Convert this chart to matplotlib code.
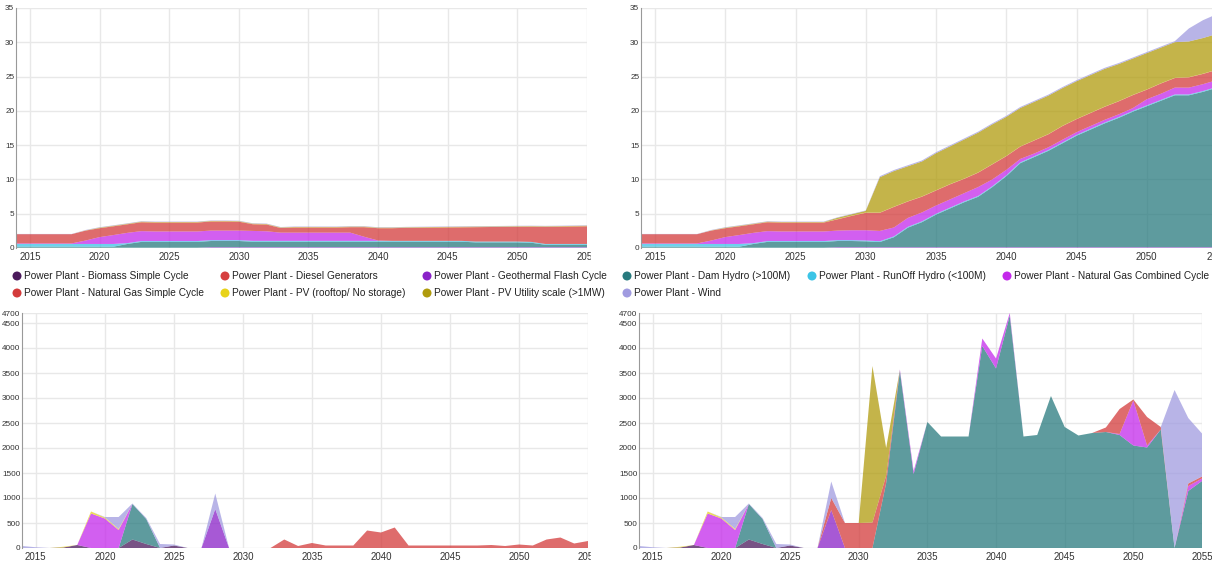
import matplotlib
matplotlib.use("Agg")
import matplotlib.pyplot as plt
from matplotlib.patches import Rectangle
import numpy as np

plt.rcParams['font.family'] = ['Liberation Sans', 'DejaVu Sans']

years = list(range(2014, 2056))

names = ["Power Plant - Biomass Simple Cycle", "Power Plant - Diesel Generators",
         "Power Plant - Geothermal Flash Cycle", "Power Plant - Dam Hydro (>100M)",
         "Power Plant - RunOff Hydro (<100M)", "Power Plant - Natural Gas Combined Cycle",
         "Power Plant - Natural Gas Simple Cycle", "Power Plant - PV (rooftop/ No storage)",
         "Power Plant - PV Utility scale (>1MW)", "Power Plant - Wind"]
colors = ["#4b1a5c", "#d63f3f", "#8a22c8", "#287a7e", "#3cc4e6",
          "#c429eb", "#d33b3b", "#e8d31a", "#b09b0d", "#a09be0"]

# ---- capacity, scenario 1 (top left)
tl_biomass = [0.04] * 42
tl_diesel = [0] * 42
tl_geo = [0] * 14 + [0.08] * 28
tl_dam = [0.15] * 8 + [0.55] + [0.85] * 5 + [0.9] * 3 + [0.8] * 16 + [0.7] * 4 + [0.65] + [0.35] * 4
tl_runoff = [0.4] * 8 + [0.12] * 34
tl_ngcc = [0.08] * 5 + [0.5, 1.0, 1.3, 1.5, 1.45] + [1.4] * 4 + [1.4, 1.4, 1.4, 1.45, 1.4] + [1.2] * 6 + [0.6, 0.05] + [0] * 15
tl_ngsc = [1.35] * 5 + [1.45, 1.3, 1.28, 1.25] + [1.3] * 5 + [1.33, 1.33, 1.3, 0.98, 0.98, 0.68] + \
          [0.75] * 4 + [0.8, 1.4, 1.8, 1.85, 1.9, 1.92, 1.94, 1.96, 1.98, 2.1, 2.12, 2.14, 2.16, 2.22,
                        2.5, 2.52, 2.55, 2.58]
tl_pvroof = [0] * 5 + [0.03] * 37
tl_pvutil = [0] * 6 + [0.05] * 36
tl_wind = [0.03] * 5 + [0.06] * 37

# ---- capacity, scenario 2 (top right)
tr_biomass = tl_biomass
tr_diesel = tl_diesel
tr_geo = tl_geo
tr_dam = tl_dam[:14] + [0.9, 0.9, 0.85, 0.75, 1.45, 2.85, 3.65, 4.75, 5.65, 6.55, 7.35, 8.75, 10.35,
                        12.25, 13.15, 14.05, 15.15, 16.25, 17.15, 18.05, 18.85, 19.75, 20.55, 21.35,
                        22.15, 22.15, 22.65, 23.25]
tr_runoff = tl_runoff
tr_ngcc = tl_ngcc[:14] + [1.4, 1.45, 1.5, 1.5, 1.3, 1.3, 1.3, 1.2, 1.2, 1.2, 1.3, 1.0, 0.8, 0.5,
                          0.4, 0.4, 0.4, 0.4, 0.4, 0.4, 0.4, 0.4, 0.9, 0.9, 1.0, 1.0, 1.0, 1.0]
tr_ngsc = tl_ngsc[:14] + [1.65, 2.1, 2.55, 2.65, 3.0, 2.4, 2.3, 2.2, 2.2, 2.1, 2.1, 2.2, 2.0, 1.8,
                          1.9, 1.9, 2.0, 1.9, 1.9, 1.9, 1.9, 1.9, 1.4, 1.5, 1.4, 1.5, 1.5, 1.5]
tr_pvroof = tl_pvroof
tr_pvutil = tl_pvutil[:14] + [0.2, 0.2, 0.25, 5.15, 5.2, 5.1, 5.1, 5.4, 5.5, 5.7, 5.8, 5.8, 5.7, 5.6,
                              5.6, 5.6, 5.5, 5.5, 5.5, 5.5, 5.4, 5.3, 5.3, 5.2, 5.2, 5.2, 5.2, 5.2]
tr_wind = [0.03] * 5 + [0.06] * 12 + [0.15] * 22 + [1.9, 2.6, 2.9]

# ---- new capacity, scenario 1 (bottom left)
bl_biomass = [0, 0, 0, 10, 60, 0, 0, 0, 170, 80, 0, 50] + [0] * 30
bl_diesel = [0] * 42
bl_geo = [0] * 14 + [780] + [0] * 27
bl_dam = [0] * 8 + [710, 500] + [0] * 32
bl_runoff = [0] * 42
bl_ngcc = [0] * 5 + [690, 590, 360] + [0] * 34
bl_ngsc = [0] * 19 + [170, 40, 100, 50, 50, 50, 350, 310, 410, 50, 50, 50, 50, 50, 50, 60, 40, 70,
                      50, 170, 210, 90, 140]
bl_pvroof = [0, 0, 0, 15, 0, 40, 20, 20] + [0] * 34
bl_pvutil = [0] * 42
bl_wind = [40, 15, 0, 0, 0, 0, 10, 240, 10, 20, 80, 20, 0, 0, 310] + [0] * 27

# ---- new capacity, scenario 2 (bottom right)
br_biomass = bl_biomass
br_diesel = bl_diesel
br_geo = [0] * 14 + [760] + [0] * 27
br_dam = bl_dam[:17] + [0, 1300, 3540, 1480, 2520, 2230, 2230, 2230, 4040, 3590, 4650, 2230, 2260,
                        3040, 2420, 2250, 2300, 2320, 2260, 2050, 2010, 2370, 0, 1140, 1340]
br_runoff = bl_runoff
br_ngcc = bl_ngcc[:19] + [30, 60, 0, 0, 0, 0, 150, 200, 50, 0, 0, 0, 0, 0, 0, 0, 20, 900, 40, 0, 0,
                          100, 50]
br_ngsc = [0] * 14 + [240, 500, 500, 510, 150] + [0] * 15 + [90, 500, 20, 570, 50, 0, 50, 40]
br_pvroof = bl_pvroof
br_pvutil = [0] * 17 + [3130, 550] + [0] * 23
br_wind = bl_wind[:14] + [330] + [0] * 24 + [3160, 1310, 860]

W, H = 1212, 566
fig = plt.figure(figsize=(W / 100, H / 100), dpi=100)


def panel(box, layers, yticks, ylim):
    x0, y0, x1, y1 = box
    ax = fig.add_axes([x0 / W, 1 - y1 / H, (x1 - x0) / W, (y1 - y0) / H])
    ax.stackplot(years, *layers, colors=colors, alpha=0.75, linewidth=0)
    ax.set_xlim(2014, 2055)
    ax.set_ylim(*ylim)
    ax.set_xticks(range(2015, 2056, 5))
    ax.set_yticks(yticks)
    ax.grid(True, color="#e8e8e8", linewidth=1)
    ax.set_axisbelow(True)
    for s in ["top", "right", "bottom"]:
        ax.spines[s].set_visible(False)
    ax.spines["left"].set_color("#999999")
    ax.tick_params(length=0, colors="#333333")
    ax.tick_params(axis="x", labelsize=7, pad=3)
    ax.tick_params(axis="y", labelsize=5.9, pad=1.2)
    return ax


panel((16, 8, 587, 248),
      [tl_biomass, tl_diesel, tl_geo, tl_dam, tl_runoff, tl_ngcc, tl_ngsc, tl_pvroof, tl_pvutil, tl_wind],
      range(0, 36, 5), (0, 35))
panel((641, 8, 1217, 248),
      [tr_biomass, tr_diesel, tr_geo, tr_dam, tr_runoff, tr_ngcc, tr_ngsc, tr_pvroof, tr_pvutil, tr_wind],
      range(0, 36, 5), (0, 35))
bticks = list(range(0, 4501, 500)) + [4700]
panel((22, 313, 588, 548),
      [bl_biomass, bl_diesel, bl_geo, bl_dam, bl_runoff, bl_ngcc, bl_ngsc, bl_pvroof, bl_pvutil, bl_wind],
      bticks, (0, 4700))
panel((639, 313, 1202, 548),
      [br_biomass, br_diesel, br_geo, br_dam, br_runoff, br_ngcc, br_ngsc, br_pvroof, br_pvutil, br_wind],
      bticks, (0, 4700))

# left charts are cut off at their right edge
for y0, y1 in [(0, 266), (303, 566)]:
    fig.add_artist(Rectangle((591 / W, 1 - y1 / H), 26 / W, (y1 - y0) / H,
                             transform=fig.transFigure, color="white", zorder=10))

# legend
leg = fig.add_axes([0, 0, 1, 1], zorder=20)
leg.set_xlim(0, W)
leg.set_ylim(H, 0)
leg.axis("off")
leg_x = [17, 225, 427, 627, 812, 1007, 17, 225, 427, 627]
leg_y = [276] * 6 + [293] * 4
for name, c, lx, ly in zip(names, colors, leg_x, leg_y):
    leg.scatter([lx], [ly], s=42, color=c, edgecolors="none")
    leg.text(lx + 7, ly, name, fontsize=7.3, color="#222222", va="center", ha="left")

fig.savefig("out.png", dpi=100)
